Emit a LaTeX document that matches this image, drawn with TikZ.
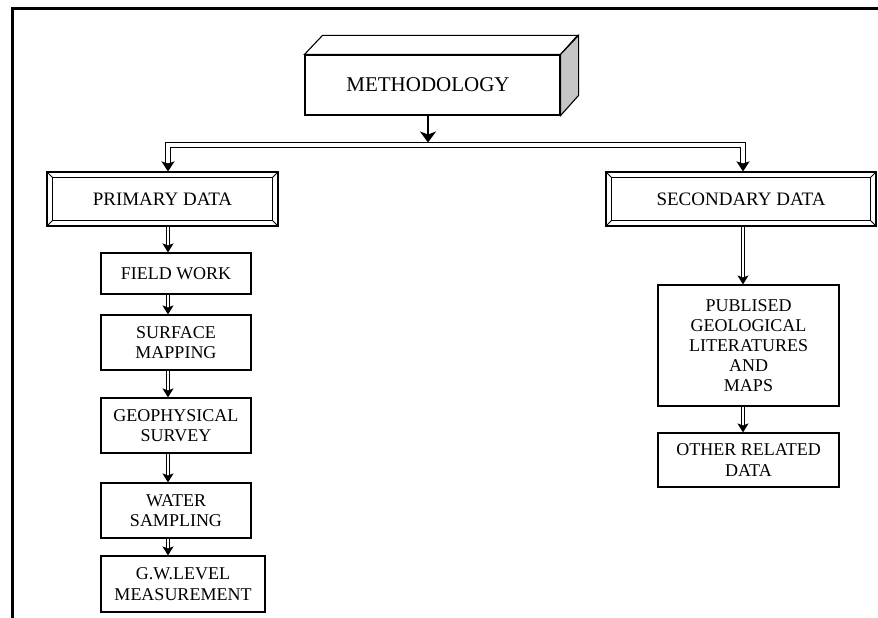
\documentclass[tikz,border=0pt]{standalone}
\usepackage{fontspec}
\setmainfont{Liberation Serif}
\usetikzlibrary{arrows.meta,calc}
\begin{document}
\begin{tikzpicture}[x=1pt,y=-1pt,
  box/.style={draw, line width=1.1pt, fill=white, align=center, inner sep=0pt,
    font=\fontsize{18}{20.5}\selectfont},
  bevbox/.style={box, font=\fontsize{19}{21}\selectfont},
  tip/.style={-{Stealth[length=9pt,width=11pt,inset=2pt]}},
  dbl/.style={double, double distance=1.6pt, line width=1pt, tip},
  barline/.style={double, double distance=3.4pt, line width=1.6pt,
    {Stealth[length=10pt,width=13pt,inset=2pt]}-{Stealth[length=10pt,width=13pt,inset=2pt]}},
]
\useasboundingbox (0,0) rectangle (878,618);
\fill[white] (0,0) rectangle (878,618);
% frame
\draw[line width=3pt] (12.5,618) -- (12.5,8.5) -- (878,8.5);

% methodology 3D box
\node[box, minimum width=255, minimum height=60, font=\fontsize{21}{24}\selectfont] (meth) at (432.5,85) {\hspace*{-9pt}METHODOLOGY};
\draw[line width=1.1pt, fill=white] (meth.north west) -- ++(18,-19) -- ++(255,0) -- (meth.north east) -- cycle;
\draw[line width=1.1pt, fill=gray!45] (meth.north east) -- ++(18,-19) -- ++(0,60) -- (meth.south east) -- cycle;

% primary / secondary
\node[bevbox, minimum width=231, minimum height=54] (prim) at (162.5,199) {PRIMARY DATA};
\node[bevbox, minimum width=270, minimum height=54] (sec) at (741,199) {SECONDARY DATA};
\foreach \n in {prim,sec}{
  \draw[line width=1.1pt] ($(\n.north west)+(6,6)$) rectangle ($(\n.south east)+(-6,-6)$);
  \draw[line width=0.8pt] (\n.north west) -- ++(6,6);
  \draw[line width=0.8pt] (\n.north east) -- ++(-6,6);
  \draw[line width=0.8pt] (\n.south west) -- ++(6,-6);
  \draw[line width=0.8pt] (\n.south east) -- ++(-6,-6);
}

% left column
\node[box, minimum width=150, minimum height=41] (fw) at (176,273.5) {FIELD WORK};
\node[box, minimum width=150, minimum height=55] (sm) at (176,342.5) {SURFACE\\MAPPING};
\node[box, minimum width=150, minimum height=55] (gs) at (176,425.5) {GEOPHYSICAL\\SURVEY};
\node[box, minimum width=150, minimum height=55] (ws) at (176,510.5) {WATER\\SAMPLING};
\node[box, minimum width=164, minimum height=56] (gw) at (183,584) {G.W.LEVEL\\MEASUREMENT};

% right column
\node[box, minimum width=181, minimum height=121, font=\fontsize{18}{20}\selectfont] (pub) at (748.5,345.5) {PUBLISED\\GEOLOGICAL\\LITERATURES\\AND\\MAPS};
\node[box, minimum width=181, minimum height=54] (oth) at (748.5,460) {OTHER RELATED\\DATA};

\coordinate (lc) at (168,0);
\coordinate (rc) at (743,0);
\coordinate (bar) at (428,145);

% connectors
\draw[line width=2.6pt, -{Stealth[length=11pt,width=16pt,inset=3pt]}] (meth.south -| bar) -- ($(bar)+(0,-2.5)$);
\draw[barline] (prim.north -| lc) |- (bar) -| (sec.north -| rc);

\draw[dbl] (prim.south -| lc) -- (fw.north -| lc);
\draw[dbl] (fw.south -| lc) -- (sm.north -| lc);
\draw[dbl] (sm.south -| lc) -- (gs.north -| lc);
\draw[dbl] (gs.south -| lc) -- (ws.north -| lc);
\draw[dbl] (ws.south -| lc) -- (gw.north -| lc);

\draw[dbl] (sec.south -| rc) -- (pub.north -| rc);
\draw[dbl] (pub.south -| rc) -- (oth.north -| rc);
\end{tikzpicture}
\end{document}
